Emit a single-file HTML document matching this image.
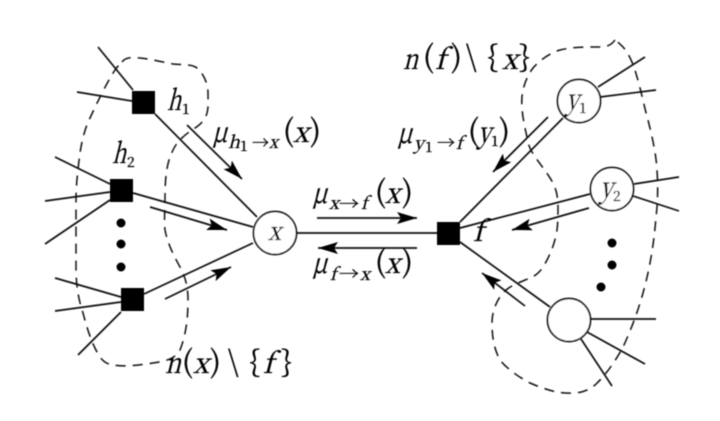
<!DOCTYPE html>
<html><head><meta charset="utf-8">
<style>
html,body{margin:0;padding:0;background:#fff;width:720px;height:421px;overflow:hidden}
svg{display:block}
svg text{font-family:"Noto Serif CJK SC","Liberation Serif",serif;fill:#000;stroke:#000;stroke-width:.35}
svg text.m{font-size:28px}
svg text.p{font-size:30px}
svg text.s{font-size:17px}
svg text.d{font-size:14px}
</style></head>
<body>
<svg width="720" height="421" viewBox="0 0 720 421" xmlns="http://www.w3.org/2000/svg">
<defs>
<filter id="b" x="-5%" y="-5%" width="110%" height="110%"><feGaussianBlur stdDeviation="0.45"/></filter>
<marker id="ah" viewBox="0 0 20 12" refX="20" refY="6" markerWidth="20" markerHeight="12" markerUnits="userSpaceOnUse" orient="auto"><path d="M0 0L20 6L0 12L4 6Z" fill="#000"/></marker>
</defs>
<g filter="url(#b)">
<g fill="none" stroke="#111" stroke-width="1.5" stroke-dasharray="10 7">
<path d="M122 62C126 56 134 58 140 58C150 59 162 62 173 64C184 65 192 64 197 68C204 74 208 84 208 93C208 103 209 111 205 118C200 127 190 130 183 137C175 144 173 150 170 157C166 168 165 183 165 197C165 210 164 220 165 230C168 245 174 256 180 267C186 278 188 288 188 300C188 318 186 335 180 350C174 360 165 361 153 363C140 365 125 367 113 365C106 364 103 361 100 357C92 345 87 328 83 313C78 298 76 284 76 267C76 245 76 222 76 200C76 185 78 168 80 153C82 140 85 128 90 118C97 103 106 84 115 70C117 67 119 65 122 62Z"/>
<path d="M615 40C610 47 604 47 597 47C585 47 572 47 560 50C550 53 540 60 533 68C527 76 523 86 522 97C521 110 524 124 527 137C528 143 529 147 532 152C538 162 547 172 553 183C557 191 558 199 558 207C558 215 558 222 557 230C555 243 550 256 543 267C539 273 535 276 530 278C521 282 510 285 503 293C496 301 492 312 492 323C492 337 494 349 500 360C508 370 519 377 530 383C544 389 558 394 573 393C582 393 589 390 595 385C606 375 616 360 623 347C631 330 638 311 643 293C650 268 654 243 656 217C658 201 658 186 657 170C656 153 652 136 648 120C644 106 641 90 637 77C634 66 630 55 623 47C620 44 618 42 615 40Z"/>
</g>
<g fill="none" stroke="#111" stroke-width="1.7">
<path d="M98 47L133 90M77 92L132 101M155 114L257 217"/>
<path d="M55 157L110 184M45 201L110 192M45 244L110 200M133 193L253 227"/>
<path d="M55 278L121 297M55 311L121 302M78 355L121 312M144 294L253 243"/>
<path d="M297 233L437 233"/>
<path d="M460 222L563 118M460 228L590 194M460 242L550 307"/>
<path d="M598 87L645 57M600 97L656 90M634 184L679 177M633 196L679 211"/>
<path d="M590 319L656 319M587 332L645 364M581 339L612 386"/>
<path d="M187 125L242 179" marker-end="url(#ah)"/>
<path d="M150 207L227 230" marker-end="url(#ah)"/>
<path d="M165 299L231 267" marker-end="url(#ah)"/>
<path d="M317 218L417 218" marker-end="url(#ah)"/>
<path d="M417 248L318 248" marker-end="url(#ah)"/>
<path d="M548 117L493 172" marker-end="url(#ah)"/>
<path d="M589 208L512 230" marker-end="url(#ah)"/>
<path d="M525 306L482 273" marker-end="url(#ah)"/>
</g>
<g fill="#000">
<rect x="132" y="91" width="23" height="23"/>
<rect x="110" y="179" width="23" height="23"/>
<rect x="121" y="288" width="23" height="23"/>
<rect x="437" y="222" width="23" height="23"/>
<circle cx="121" cy="223" r="4.5"/><circle cx="121" cy="244" r="4.5"/><circle cx="121" cy="267" r="4.5"/>
<circle cx="612" cy="243" r="4.5"/><circle cx="612" cy="265" r="4.5"/><circle cx="601" cy="287" r="4.5"/>
</g>
<g fill="#fff" stroke="#111" stroke-width="1.7">
<circle cx="275" cy="233" r="21.5"/>
<circle cx="579" cy="101" r="21.5"/>
<circle cx="612" cy="189" r="21.5"/>
<circle cx="569" cy="320" r="21.5"/>
</g>

<text transform="translate(167 110) skewX(-14)" class="m" textLength="14" lengthAdjust="spacingAndGlyphs">h</text><text x="182" y="114" class="d">1</text>
<text transform="translate(112 163) skewX(-14)" class="m" textLength="14" lengthAdjust="spacingAndGlyphs">h</text><text x="127" y="167" class="d">2</text>
<text transform="translate(268 240) skewX(-14)" style="font-size:25px" textLength="13" lengthAdjust="spacingAndGlyphs">x</text>
<text transform="translate(566 109) skewX(-14)" class="m" textLength="13" lengthAdjust="spacingAndGlyphs">y</text><text x="579" y="113" class="d">1</text>
<text transform="translate(600 197) skewX(-14)" class="m" textLength="13" lengthAdjust="spacingAndGlyphs">y</text><text x="613" y="201" class="d">2</text>
<text transform="translate(473 241) skewX(-14)" class="m">f</text>

<text transform="translate(212 142) skewX(-14)" class="m" textLength="15" lengthAdjust="spacingAndGlyphs">μ</text><text transform="translate(228 148) skewX(-14)" class="s" textLength="12" lengthAdjust="spacingAndGlyphs">h</text><text x="240" y="151" class="d">1</text><text x="252" y="149" class="s" textLength="17" lengthAdjust="spacingAndGlyphs">→</text><text transform="translate(269 148) skewX(-14)" class="s" textLength="9" lengthAdjust="spacingAndGlyphs">x</text>
<text x="283" y="141" class="p">(</text><text transform="translate(293 142) skewX(-14)" class="m" textLength="16" lengthAdjust="spacingAndGlyphs">x</text><text x="310" y="141" class="p">)</text>

<text transform="translate(397 143) skewX(-14)" class="m" textLength="15" lengthAdjust="spacingAndGlyphs">μ</text><text transform="translate(414 149) skewX(-14)" class="s" textLength="10" lengthAdjust="spacingAndGlyphs">y</text><text x="425" y="152" class="d">1</text><text x="437" y="149" class="s" textLength="18" lengthAdjust="spacingAndGlyphs">→</text><text transform="translate(456 149) skewX(-14)" class="s">f</text>
<text x="468" y="141" class="p">(</text><text transform="translate(478 142) skewX(-14)" class="m" textLength="13" lengthAdjust="spacingAndGlyphs">y</text><text x="491" y="146" class="d">1</text><text x="499" y="141" class="p">)</text>

<text transform="translate(312 203) skewX(-14)" class="m" textLength="15" lengthAdjust="spacingAndGlyphs">μ</text><text transform="translate(329 209) skewX(-14)" class="s" textLength="10" lengthAdjust="spacingAndGlyphs">x</text><text x="339" y="210" class="s" textLength="20" lengthAdjust="spacingAndGlyphs">→</text><text transform="translate(361 209) skewX(-14)" class="s">f</text>
<text x="375" y="202" class="p">(</text><text transform="translate(385 203) skewX(-14)" class="m" textLength="15" lengthAdjust="spacingAndGlyphs">x</text><text x="402" y="202" class="p">)</text>

<text transform="translate(312 273) skewX(-14)" class="m" textLength="15" lengthAdjust="spacingAndGlyphs">μ</text><text transform="translate(330 280) skewX(-14)" class="s">f</text><text x="339" y="280" class="s" textLength="20" lengthAdjust="spacingAndGlyphs">→</text><text transform="translate(360 280) skewX(-14)" class="s" textLength="10" lengthAdjust="spacingAndGlyphs">x</text>
<text x="375" y="272" class="p">(</text><text transform="translate(385 273) skewX(-14)" class="m" textLength="15" lengthAdjust="spacingAndGlyphs">x</text><text x="402" y="272" class="p">)</text>

<text transform="translate(403 69) skewX(-14)" class="m" textLength="15" lengthAdjust="spacingAndGlyphs">n</text><text x="423" y="67" class="p">(</text><text transform="translate(435 69) skewX(-14)" class="m">f</text><text x="451" y="67" class="p">)</text><text x="466" y="67" class="p">\</text><text x="487" y="67" class="p">{</text><text transform="translate(502 69) skewX(-14)" class="m" textLength="16" lengthAdjust="spacingAndGlyphs">x</text><text x="519" y="67" class="p">}</text>

<text transform="translate(165 373) skewX(-14)" class="m" textLength="16" lengthAdjust="spacingAndGlyphs">n</text><text x="182" y="372" class="p">(</text><text transform="translate(193 373) skewX(-14)" class="m" textLength="16" lengthAdjust="spacingAndGlyphs">x</text><text x="210" y="372" class="p">)</text><text x="228" y="372" class="p">\</text><text x="249" y="372" class="p">{</text><text transform="translate(263 373) skewX(-14)" class="m">f</text><text x="281" y="372" class="p">}</text>
</g>
</svg>
</body></html>
